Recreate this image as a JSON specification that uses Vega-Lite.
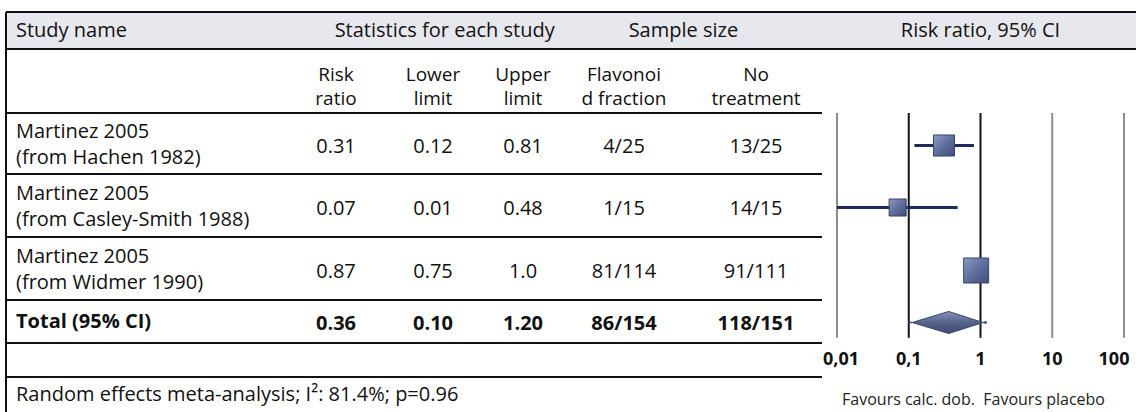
{
  "$schema": "https://vega.github.io/schema/vega-lite/v6.json",
  "width": 1136,
  "height": 412,
  "padding": 0,
  "autosize": {"type": "fit", "contains": "padding"},
  "background": "white",
  "config": {
    "view": {"stroke": null},
    "text": {"font": "Open Sans", "color": "#111111", "baseline": "middle"}
  },
  "datasets": {
    "studies": [
      {"row": 2, "study": "Martinez 2005\n(from Hachen 1982)", "rr": 0.31, "lo": 0.12, "hi": 0.81, "hi_label": "0.81", "treat": "4/25", "ctrl": "13/25", "weight": 32.6},
      {"row": 3, "study": "Martinez 2005\n(from Casley-Smith 1988)", "rr": 0.07, "lo": 0.01, "hi": 0.48, "hi_label": "0.48", "treat": "1/15", "ctrl": "14/15", "weight": 21.4},
      {"row": 4, "study": "Martinez 2005\n(from Widmer 1990)", "rr": 0.87, "lo": 0.75, "hi": 1.0, "hi_label": "1.0", "treat": "81/114", "ctrl": "91/111", "weight": 46.0}
    ],
    "pooled": [
      {"row": 5, "study": "Total (95% CI)", "rr": 0.36, "lo": 0.10, "hi": 1.20, "hi_label": "1.20", "treat": "86/154", "ctrl": "118/151"}
    ],
    "columns": [
      {"col": 1, "title": "Risk\nratio"},
      {"col": 2, "title": "Lower\nlimit"},
      {"col": 3, "title": "Upper\nlimit"},
      {"col": 4, "title": "Flavonoi\nd fraction"},
      {"col": 5, "title": "No\ntreatment"}
    ],
    "ticks": [
      {"t": 0.01, "label": "0,01"},
      {"t": 0.1, "label": "0,1"},
      {"t": 1, "label": "1"},
      {"t": 10, "label": "10"},
      {"t": 100, "label": "100"}
    ]
  },
  "layer": [
    {
      "layer": [
        {
          "data": {"values": [{}]},
          "mark": {"type": "rect", "fill": "#e7e8ee"},
          "encoding": {
            "x": {"datum": -1, "type": "quantitative", "axis": null, "scale": {"type": "linear", "domain": [-1, 0, 1, 2, 3, 4, 5, 6, 7], "range": [6, 16, 336, 433, 523, 624, 756, 822, 1136], "zero": false, "nice": false}},
            "x2": {"datum": 7},
            "y": {"datum": -0.5, "type": "quantitative", "axis": null, "scale": {"type": "linear", "domain": [-0.5, 0.5, 1.5, 2.5, 3.5, 4.5, 5.5, 6.5, 7.5], "range": [12, 49, 113, 174, 237, 300, 343, 377, 412], "zero": false, "nice": false}},
            "y2": {"datum": 0.5}
          }
        },
        {
          "data": {"values": [{"edge": -0.5}, {"edge": 0.5}]},
          "mark": {"type": "rule", "color": "#111111", "strokeWidth": 2},
          "encoding": {
            "x": {"datum": -1, "type": "quantitative", "axis": null, "scale": {"type": "linear", "domain": [-1, 0, 1, 2, 3, 4, 5, 6, 7], "range": [6, 16, 336, 433, 523, 624, 756, 822, 1136], "zero": false, "nice": false}},
            "x2": {"datum": 7},
            "y": {"field": "edge", "type": "quantitative", "axis": null, "scale": {"type": "linear", "domain": [-0.5, 0.5, 1.5, 2.5, 3.5, 4.5, 5.5, 6.5, 7.5], "range": [12, 49, 113, 174, 237, 300, 343, 377, 412], "zero": false, "nice": false}}
          }
        },
        {
          "data": {"values": [{"edge": 1.5}, {"edge": 2.5}, {"edge": 3.5}, {"edge": 4.5}, {"edge": 5.5}, {"edge": 6.5}]},
          "mark": {"type": "rule", "color": "#111111", "strokeWidth": 2},
          "encoding": {
            "x": {"datum": -1, "type": "quantitative", "axis": null, "scale": {"type": "linear", "domain": [-1, 0, 1, 2, 3, 4, 5, 6, 7], "range": [6, 16, 336, 433, 523, 624, 756, 822, 1136], "zero": false, "nice": false}},
            "x2": {"datum": 6},
            "y": {"field": "edge", "type": "quantitative", "axis": null, "scale": {"type": "linear", "domain": [-0.5, 0.5, 1.5, 2.5, 3.5, 4.5, 5.5, 6.5, 7.5], "range": [12, 49, 113, 174, 237, 300, 343, 377, 412], "zero": false, "nice": false}}
          }
        },
        {
          "data": {"values": [{}]},
          "mark": {"type": "rule", "color": "#111111", "strokeWidth": 2},
          "encoding": {
            "x": {"datum": -1, "type": "quantitative", "axis": null, "scale": {"type": "linear", "domain": [-1, 0, 1, 2, 3, 4, 5, 6, 7], "range": [6, 16, 336, 433, 523, 624, 756, 822, 1136], "zero": false, "nice": false}},
            "y": {"datum": -0.5, "type": "quantitative", "axis": null, "scale": {"type": "linear", "domain": [-0.5, 0.5, 1.5, 2.5, 3.5, 4.5, 5.5, 6.5, 7.5], "range": [12, 49, 113, 174, 237, 300, 343, 377, 412], "zero": false, "nice": false}},
            "y2": {"datum": 7.5}
          }
        },
        {
          "data": {"values": [{}]},
          "mark": {"type": "text", "text": "Study name", "align": "left", "fontSize": 20},
          "encoding": {
            "x": {"datum": 0, "type": "quantitative", "axis": null, "scale": {"type": "linear", "domain": [-1, 0, 1, 2, 3, 4, 5, 6, 7], "range": [6, 16, 336, 433, 523, 624, 756, 822, 1136], "zero": false, "nice": false}},
            "y": {"datum": 0, "type": "quantitative", "axis": null, "scale": {"type": "linear", "domain": [-0.5, 0.5, 1.5, 2.5, 3.5, 4.5, 5.5, 6.5, 7.5], "range": [12, 49, 113, 174, 237, 300, 343, 377, 412], "zero": false, "nice": false}}
          }
        },
        {
          "data": {"values": [{}]},
          "mark": {"type": "text", "text": "Statistics for each study", "align": "center", "fontSize": 20},
          "encoding": {
            "x": {"datum": 2.13, "type": "quantitative", "axis": null, "scale": {"type": "linear", "domain": [-1, 0, 1, 2, 3, 4, 5, 6, 7], "range": [6, 16, 336, 433, 523, 624, 756, 822, 1136], "zero": false, "nice": false}},
            "y": {"datum": 0, "type": "quantitative", "axis": null, "scale": {"type": "linear", "domain": [-0.5, 0.5, 1.5, 2.5, 3.5, 4.5, 5.5, 6.5, 7.5], "range": [12, 49, 113, 174, 237, 300, 343, 377, 412], "zero": false, "nice": false}}
          }
        },
        {
          "data": {"values": [{}]},
          "mark": {"type": "text", "text": "Sample size", "align": "center", "fontSize": 20},
          "encoding": {
            "x": {"datum": 4.45, "type": "quantitative", "axis": null, "scale": {"type": "linear", "domain": [-1, 0, 1, 2, 3, 4, 5, 6, 7], "range": [6, 16, 336, 433, 523, 624, 756, 822, 1136], "zero": false, "nice": false}},
            "y": {"datum": 0, "type": "quantitative", "axis": null, "scale": {"type": "linear", "domain": [-0.5, 0.5, 1.5, 2.5, 3.5, 4.5, 5.5, 6.5, 7.5], "range": [12, 49, 113, 174, 237, 300, 343, 377, 412], "zero": false, "nice": false}}
          }
        },
        {
          "data": {"name": "columns"},
          "mark": {"type": "text", "align": "center", "fontSize": 19, "lineBreak": "\n", "lineHeight": 24, "dy": -6},
          "encoding": {
            "x": {"field": "col", "type": "quantitative", "axis": null, "scale": {"type": "linear", "domain": [-1, 0, 1, 2, 3, 4, 5, 6, 7], "range": [6, 16, 336, 433, 523, 624, 756, 822, 1136], "zero": false, "nice": false}},
            "y": {"datum": 1, "type": "quantitative", "axis": null, "scale": {"type": "linear", "domain": [-0.5, 0.5, 1.5, 2.5, 3.5, 4.5, 5.5, 6.5, 7.5], "range": [12, 49, 113, 174, 237, 300, 343, 377, 412], "zero": false, "nice": false}},
            "text": {"field": "title", "type": "nominal"}
          }
        },
        {
          "data": {"name": "studies"},
          "mark": {"type": "text", "align": "left", "fontSize": 20, "lineBreak": "\n", "lineHeight": 26, "dy": -12},
          "encoding": {
            "x": {"datum": 0, "type": "quantitative", "axis": null, "scale": {"type": "linear", "domain": [-1, 0, 1, 2, 3, 4, 5, 6, 7], "range": [6, 16, 336, 433, 523, 624, 756, 822, 1136], "zero": false, "nice": false}},
            "y": {"field": "row", "type": "quantitative", "axis": null, "scale": {"type": "linear", "domain": [-0.5, 0.5, 1.5, 2.5, 3.5, 4.5, 5.5, 6.5, 7.5], "range": [12, 49, 113, 174, 237, 300, 343, 377, 412], "zero": false, "nice": false}},
            "text": {"field": "study", "type": "nominal"}
          }
        },
        {
          "data": {"name": "studies"},
          "mark": {"type": "text", "align": "center", "fontSize": 20, "dy": 3},
          "encoding": {
            "x": {"datum": 1, "type": "quantitative", "axis": null, "scale": {"type": "linear", "domain": [-1, 0, 1, 2, 3, 4, 5, 6, 7], "range": [6, 16, 336, 433, 523, 624, 756, 822, 1136], "zero": false, "nice": false}},
            "y": {"field": "row", "type": "quantitative", "axis": null, "scale": {"type": "linear", "domain": [-0.5, 0.5, 1.5, 2.5, 3.5, 4.5, 5.5, 6.5, 7.5], "range": [12, 49, 113, 174, 237, 300, 343, 377, 412], "zero": false, "nice": false}},
            "text": {"field": "rr", "type": "quantitative", "format": ".2f"}
          }
        },
        {
          "data": {"name": "studies"},
          "mark": {"type": "text", "align": "center", "fontSize": 20, "dy": 3},
          "encoding": {
            "x": {"datum": 2, "type": "quantitative", "axis": null, "scale": {"type": "linear", "domain": [-1, 0, 1, 2, 3, 4, 5, 6, 7], "range": [6, 16, 336, 433, 523, 624, 756, 822, 1136], "zero": false, "nice": false}},
            "y": {"field": "row", "type": "quantitative", "axis": null, "scale": {"type": "linear", "domain": [-0.5, 0.5, 1.5, 2.5, 3.5, 4.5, 5.5, 6.5, 7.5], "range": [12, 49, 113, 174, 237, 300, 343, 377, 412], "zero": false, "nice": false}},
            "text": {"field": "lo", "type": "quantitative", "format": ".2f"}
          }
        },
        {
          "data": {"name": "studies"},
          "mark": {"type": "text", "align": "center", "fontSize": 20, "dy": 3},
          "encoding": {
            "x": {"datum": 3, "type": "quantitative", "axis": null, "scale": {"type": "linear", "domain": [-1, 0, 1, 2, 3, 4, 5, 6, 7], "range": [6, 16, 336, 433, 523, 624, 756, 822, 1136], "zero": false, "nice": false}},
            "y": {"field": "row", "type": "quantitative", "axis": null, "scale": {"type": "linear", "domain": [-0.5, 0.5, 1.5, 2.5, 3.5, 4.5, 5.5, 6.5, 7.5], "range": [12, 49, 113, 174, 237, 300, 343, 377, 412], "zero": false, "nice": false}},
            "text": {"field": "hi_label", "type": "nominal"}
          }
        },
        {
          "data": {"name": "studies"},
          "mark": {"type": "text", "align": "center", "fontSize": 20, "dy": 3},
          "encoding": {
            "x": {"datum": 4, "type": "quantitative", "axis": null, "scale": {"type": "linear", "domain": [-1, 0, 1, 2, 3, 4, 5, 6, 7], "range": [6, 16, 336, 433, 523, 624, 756, 822, 1136], "zero": false, "nice": false}},
            "y": {"field": "row", "type": "quantitative", "axis": null, "scale": {"type": "linear", "domain": [-0.5, 0.5, 1.5, 2.5, 3.5, 4.5, 5.5, 6.5, 7.5], "range": [12, 49, 113, 174, 237, 300, 343, 377, 412], "zero": false, "nice": false}},
            "text": {"field": "treat", "type": "nominal"}
          }
        },
        {
          "data": {"name": "studies"},
          "mark": {"type": "text", "align": "center", "fontSize": 20, "dy": 3},
          "encoding": {
            "x": {"datum": 5, "type": "quantitative", "axis": null, "scale": {"type": "linear", "domain": [-1, 0, 1, 2, 3, 4, 5, 6, 7], "range": [6, 16, 336, 433, 523, 624, 756, 822, 1136], "zero": false, "nice": false}},
            "y": {"field": "row", "type": "quantitative", "axis": null, "scale": {"type": "linear", "domain": [-0.5, 0.5, 1.5, 2.5, 3.5, 4.5, 5.5, 6.5, 7.5], "range": [12, 49, 113, 174, 237, 300, 343, 377, 412], "zero": false, "nice": false}},
            "text": {"field": "ctrl", "type": "nominal"}
          }
        },
        {
          "data": {"name": "pooled"},
          "mark": {"type": "text", "align": "left", "fontSize": 20, "fontWeight": "bold"},
          "encoding": {
            "x": {"datum": 0, "type": "quantitative", "axis": null, "scale": {"type": "linear", "domain": [-1, 0, 1, 2, 3, 4, 5, 6, 7], "range": [6, 16, 336, 433, 523, 624, 756, 822, 1136], "zero": false, "nice": false}},
            "y": {"field": "row", "type": "quantitative", "axis": null, "scale": {"type": "linear", "domain": [-0.5, 0.5, 1.5, 2.5, 3.5, 4.5, 5.5, 6.5, 7.5], "range": [12, 49, 113, 174, 237, 300, 343, 377, 412], "zero": false, "nice": false}},
            "text": {"field": "study", "type": "nominal"}
          }
        },
        {
          "data": {"name": "pooled"},
          "mark": {"type": "text", "align": "center", "fontSize": 20, "fontWeight": "bold", "dy": 2},
          "encoding": {
            "x": {"datum": 1, "type": "quantitative", "axis": null, "scale": {"type": "linear", "domain": [-1, 0, 1, 2, 3, 4, 5, 6, 7], "range": [6, 16, 336, 433, 523, 624, 756, 822, 1136], "zero": false, "nice": false}},
            "y": {"field": "row", "type": "quantitative", "axis": null, "scale": {"type": "linear", "domain": [-0.5, 0.5, 1.5, 2.5, 3.5, 4.5, 5.5, 6.5, 7.5], "range": [12, 49, 113, 174, 237, 300, 343, 377, 412], "zero": false, "nice": false}},
            "text": {"field": "rr", "type": "quantitative", "format": ".2f"}
          }
        },
        {
          "data": {"name": "pooled"},
          "mark": {"type": "text", "align": "center", "fontSize": 20, "fontWeight": "bold", "dy": 2},
          "encoding": {
            "x": {"datum": 2, "type": "quantitative", "axis": null, "scale": {"type": "linear", "domain": [-1, 0, 1, 2, 3, 4, 5, 6, 7], "range": [6, 16, 336, 433, 523, 624, 756, 822, 1136], "zero": false, "nice": false}},
            "y": {"field": "row", "type": "quantitative", "axis": null, "scale": {"type": "linear", "domain": [-0.5, 0.5, 1.5, 2.5, 3.5, 4.5, 5.5, 6.5, 7.5], "range": [12, 49, 113, 174, 237, 300, 343, 377, 412], "zero": false, "nice": false}},
            "text": {"field": "lo", "type": "quantitative", "format": ".2f"}
          }
        },
        {
          "data": {"name": "pooled"},
          "mark": {"type": "text", "align": "center", "fontSize": 20, "fontWeight": "bold", "dy": 2},
          "encoding": {
            "x": {"datum": 3, "type": "quantitative", "axis": null, "scale": {"type": "linear", "domain": [-1, 0, 1, 2, 3, 4, 5, 6, 7], "range": [6, 16, 336, 433, 523, 624, 756, 822, 1136], "zero": false, "nice": false}},
            "y": {"field": "row", "type": "quantitative", "axis": null, "scale": {"type": "linear", "domain": [-0.5, 0.5, 1.5, 2.5, 3.5, 4.5, 5.5, 6.5, 7.5], "range": [12, 49, 113, 174, 237, 300, 343, 377, 412], "zero": false, "nice": false}},
            "text": {"field": "hi_label", "type": "nominal"}
          }
        },
        {
          "data": {"name": "pooled"},
          "mark": {"type": "text", "align": "center", "fontSize": 20, "fontWeight": "bold", "dy": 2},
          "encoding": {
            "x": {"datum": 4, "type": "quantitative", "axis": null, "scale": {"type": "linear", "domain": [-1, 0, 1, 2, 3, 4, 5, 6, 7], "range": [6, 16, 336, 433, 523, 624, 756, 822, 1136], "zero": false, "nice": false}},
            "y": {"field": "row", "type": "quantitative", "axis": null, "scale": {"type": "linear", "domain": [-0.5, 0.5, 1.5, 2.5, 3.5, 4.5, 5.5, 6.5, 7.5], "range": [12, 49, 113, 174, 237, 300, 343, 377, 412], "zero": false, "nice": false}},
            "text": {"field": "treat", "type": "nominal"}
          }
        },
        {
          "data": {"name": "pooled"},
          "mark": {"type": "text", "align": "center", "fontSize": 20, "fontWeight": "bold", "dy": 2},
          "encoding": {
            "x": {"datum": 5, "type": "quantitative", "axis": null, "scale": {"type": "linear", "domain": [-1, 0, 1, 2, 3, 4, 5, 6, 7], "range": [6, 16, 336, 433, 523, 624, 756, 822, 1136], "zero": false, "nice": false}},
            "y": {"field": "row", "type": "quantitative", "axis": null, "scale": {"type": "linear", "domain": [-0.5, 0.5, 1.5, 2.5, 3.5, 4.5, 5.5, 6.5, 7.5], "range": [12, 49, 113, 174, 237, 300, 343, 377, 412], "zero": false, "nice": false}},
            "text": {"field": "ctrl", "type": "nominal"}
          }
        },
        {
          "data": {"values": [{}]},
          "mark": {"type": "text", "text": "Random effects meta-analysis; I²: 81.4%; p=0.96", "align": "left", "fontSize": 20},
          "encoding": {
            "x": {"datum": 0, "type": "quantitative", "axis": null, "scale": {"type": "linear", "domain": [-1, 0, 1, 2, 3, 4, 5, 6, 7], "range": [6, 16, 336, 433, 523, 624, 756, 822, 1136], "zero": false, "nice": false}},
            "y": {"datum": 7, "type": "quantitative", "axis": null, "scale": {"type": "linear", "domain": [-0.5, 0.5, 1.5, 2.5, 3.5, 4.5, 5.5, 6.5, 7.5], "range": [12, 49, 113, 174, 237, 300, 343, 377, 412], "zero": false, "nice": false}}
          }
        }
      ]
    },
    {
      "layer": [
        {
          "data": {"name": "ticks"},
          "mark": {"type": "rule", "strokeWidth": 2},
          "encoding": {
            "x": {"field": "t", "type": "quantitative", "axis": null, "scale": {"type": "log", "domain": [0.01, 100], "range": [837, 1124], "nice": false}},
            "y": {"datum": 1.5, "type": "quantitative", "axis": null, "scale": {"type": "linear", "domain": [-0.5, 0.5, 1.5, 2.5, 3.5, 4.5, 5.5, 6.5, 7.5], "range": [12, 49, 113, 174, 237, 300, 343, 377, 412], "zero": false, "nice": false}},
            "y2": {"datum": 5.38},
            "color": {"condition": {"test": "datum.t == 0.1 || datum.t == 1", "value": "#111111"}, "value": "#8c8c8c"}
          }
        },
        {
          "data": {"name": "ticks"},
          "transform": [{"filter": "datum.t > 0.05 && datum.t < 50"}],
          "mark": {"type": "text", "align": "center", "fontSize": 18, "fontWeight": "bold"},
          "encoding": {
            "x": {"field": "t", "type": "quantitative", "axis": null, "scale": {"type": "log", "domain": [0.01, 100], "range": [837, 1124], "nice": false}},
            "y": {"datum": 6, "type": "quantitative", "axis": null, "scale": {"type": "linear", "domain": [-0.5, 0.5, 1.5, 2.5, 3.5, 4.5, 5.5, 6.5, 7.5], "range": [12, 49, 113, 174, 237, 300, 343, 377, 412], "zero": false, "nice": false}},
            "text": {"field": "label", "type": "nominal"}
          }
        },
        {
          "data": {"name": "ticks"},
          "transform": [{"filter": "datum.t < 0.05"}],
          "mark": {"type": "text", "align": "center", "fontSize": 18, "fontWeight": "bold", "dx": 4},
          "encoding": {
            "x": {"field": "t", "type": "quantitative", "axis": null, "scale": {"type": "log", "domain": [0.01, 100], "range": [837, 1124], "nice": false}},
            "y": {"datum": 6, "type": "quantitative", "axis": null, "scale": {"type": "linear", "domain": [-0.5, 0.5, 1.5, 2.5, 3.5, 4.5, 5.5, 6.5, 7.5], "range": [12, 49, 113, 174, 237, 300, 343, 377, 412], "zero": false, "nice": false}},
            "text": {"field": "label", "type": "nominal"}
          }
        },
        {
          "data": {"name": "ticks"},
          "transform": [{"filter": "datum.t > 50"}],
          "mark": {"type": "text", "align": "center", "fontSize": 18, "fontWeight": "bold", "dx": -10},
          "encoding": {
            "x": {"field": "t", "type": "quantitative", "axis": null, "scale": {"type": "log", "domain": [0.01, 100], "range": [837, 1124], "nice": false}},
            "y": {"datum": 6, "type": "quantitative", "axis": null, "scale": {"type": "linear", "domain": [-0.5, 0.5, 1.5, 2.5, 3.5, 4.5, 5.5, 6.5, 7.5], "range": [12, 49, 113, 174, 237, 300, 343, 377, 412], "zero": false, "nice": false}},
            "text": {"field": "label", "type": "nominal"}
          }
        },
        {
          "data": {"name": "studies"},
          "mark": {"type": "rule", "color": "#1c2a5c", "strokeWidth": 3, "yOffset": 2},
          "encoding": {
            "x": {"field": "lo", "type": "quantitative", "axis": null, "scale": {"type": "log", "domain": [0.01, 100], "range": [837, 1124], "nice": false}},
            "x2": {"field": "hi"},
            "y": {"field": "row", "type": "quantitative", "axis": null, "scale": {"type": "linear", "domain": [-0.5, 0.5, 1.5, 2.5, 3.5, 4.5, 5.5, 6.5, 7.5], "range": [12, 49, 113, 174, 237, 300, 343, 377, 412], "zero": false, "nice": false}}
          }
        },
        {
          "data": {"name": "studies"},
          "mark": {
            "type": "point", "shape": "square", "filled": true, "opacity": 1, "yOffset": 2,
            "fill": {"gradient": "linear", "x1": 0, "y1": 0, "x2": 1, "y2": 1, "stops": [{"offset": 0, "color": "#8e9cc4"}, {"offset": 0.5, "color": "#5f6f9c"}, {"offset": 1, "color": "#3f4c78"}]},
            "stroke": "#39456b", "strokeWidth": 1
          },
          "encoding": {
            "x": {"field": "rr", "type": "quantitative", "axis": null, "scale": {"type": "log", "domain": [0.01, 100], "range": [837, 1124], "nice": false}},
            "y": {"field": "row", "type": "quantitative", "axis": null, "scale": {"type": "linear", "domain": [-0.5, 0.5, 1.5, 2.5, 3.5, 4.5, 5.5, 6.5, 7.5], "range": [12, 49, 113, 174, 237, 300, 343, 377, 412], "zero": false, "nice": false}},
            "size": {"field": "weight", "type": "quantitative", "legend": null, "scale": {"domain": [0, 100], "range": [0, 1360]}}
          }
        },
        {
          "data": {"name": "pooled"},
          "transform": [
            {"fold": ["lo", "rr", "hi"], "as": ["stat", "value"]},
            {"calculate": "datum.row - (datum.stat === 'rr' ? 0.28 : 0)", "as": "top"},
            {"calculate": "datum.row + (datum.stat === 'rr' ? 0.28 : 0)", "as": "bottom"}
          ],
          "mark": {
            "type": "area", "orient": "vertical", "yOffset": 2,
            "fill": {"gradient": "linear", "x1": 0, "y1": 0, "x2": 0, "y2": 1, "stops": [{"offset": 0, "color": "#8591b6"}, {"offset": 0.5, "color": "#56638b"}, {"offset": 1, "color": "#3e4a70"}]},
            "stroke": "#3a466c", "strokeWidth": 1
          },
          "encoding": {
            "x": {"field": "value", "type": "quantitative", "axis": null, "scale": {"type": "log", "domain": [0.01, 100], "range": [837, 1124], "nice": false}},
            "y": {"field": "top", "type": "quantitative", "axis": null, "scale": {"type": "linear", "domain": [-0.5, 0.5, 1.5, 2.5, 3.5, 4.5, 5.5, 6.5, 7.5], "range": [12, 49, 113, 174, 237, 300, 343, 377, 412], "zero": false, "nice": false}},
            "y2": {"field": "bottom"}
          }
        },
        {
          "data": {"values": [{}]},
          "mark": {"type": "text", "text": "Risk ratio, 95% CI", "align": "center", "fontSize": 20},
          "encoding": {
            "x": {"datum": 1, "type": "quantitative", "axis": null, "scale": {"type": "log", "domain": [0.01, 100], "range": [837, 1124], "nice": false}},
            "y": {"datum": 0, "type": "quantitative", "axis": null, "scale": {"type": "linear", "domain": [-0.5, 0.5, 1.5, 2.5, 3.5, 4.5, 5.5, 6.5, 7.5], "range": [12, 49, 113, 174, 237, 300, 343, 377, 412], "zero": false, "nice": false}}
          }
        },
        {
          "data": {"values": [{}]},
          "mark": {"type": "text", "text": "Favours calc. dob.\u00a0 Favours placebo", "align": "center", "fontSize": 16, "color": "#222222", "dx": -7, "dy": 5},
          "encoding": {
            "x": {"datum": 1, "type": "quantitative", "axis": null, "scale": {"type": "log", "domain": [0.01, 100], "range": [837, 1124], "nice": false}},
            "y": {"datum": 7, "type": "quantitative", "axis": null, "scale": {"type": "linear", "domain": [-0.5, 0.5, 1.5, 2.5, 3.5, 4.5, 5.5, 6.5, 7.5], "range": [12, 49, 113, 174, 237, 300, 343, 377, 412], "zero": false, "nice": false}}
          }
        }
      ]
    }
  ],
  "resolve": {"scale": {"x": "independent"}}
}
